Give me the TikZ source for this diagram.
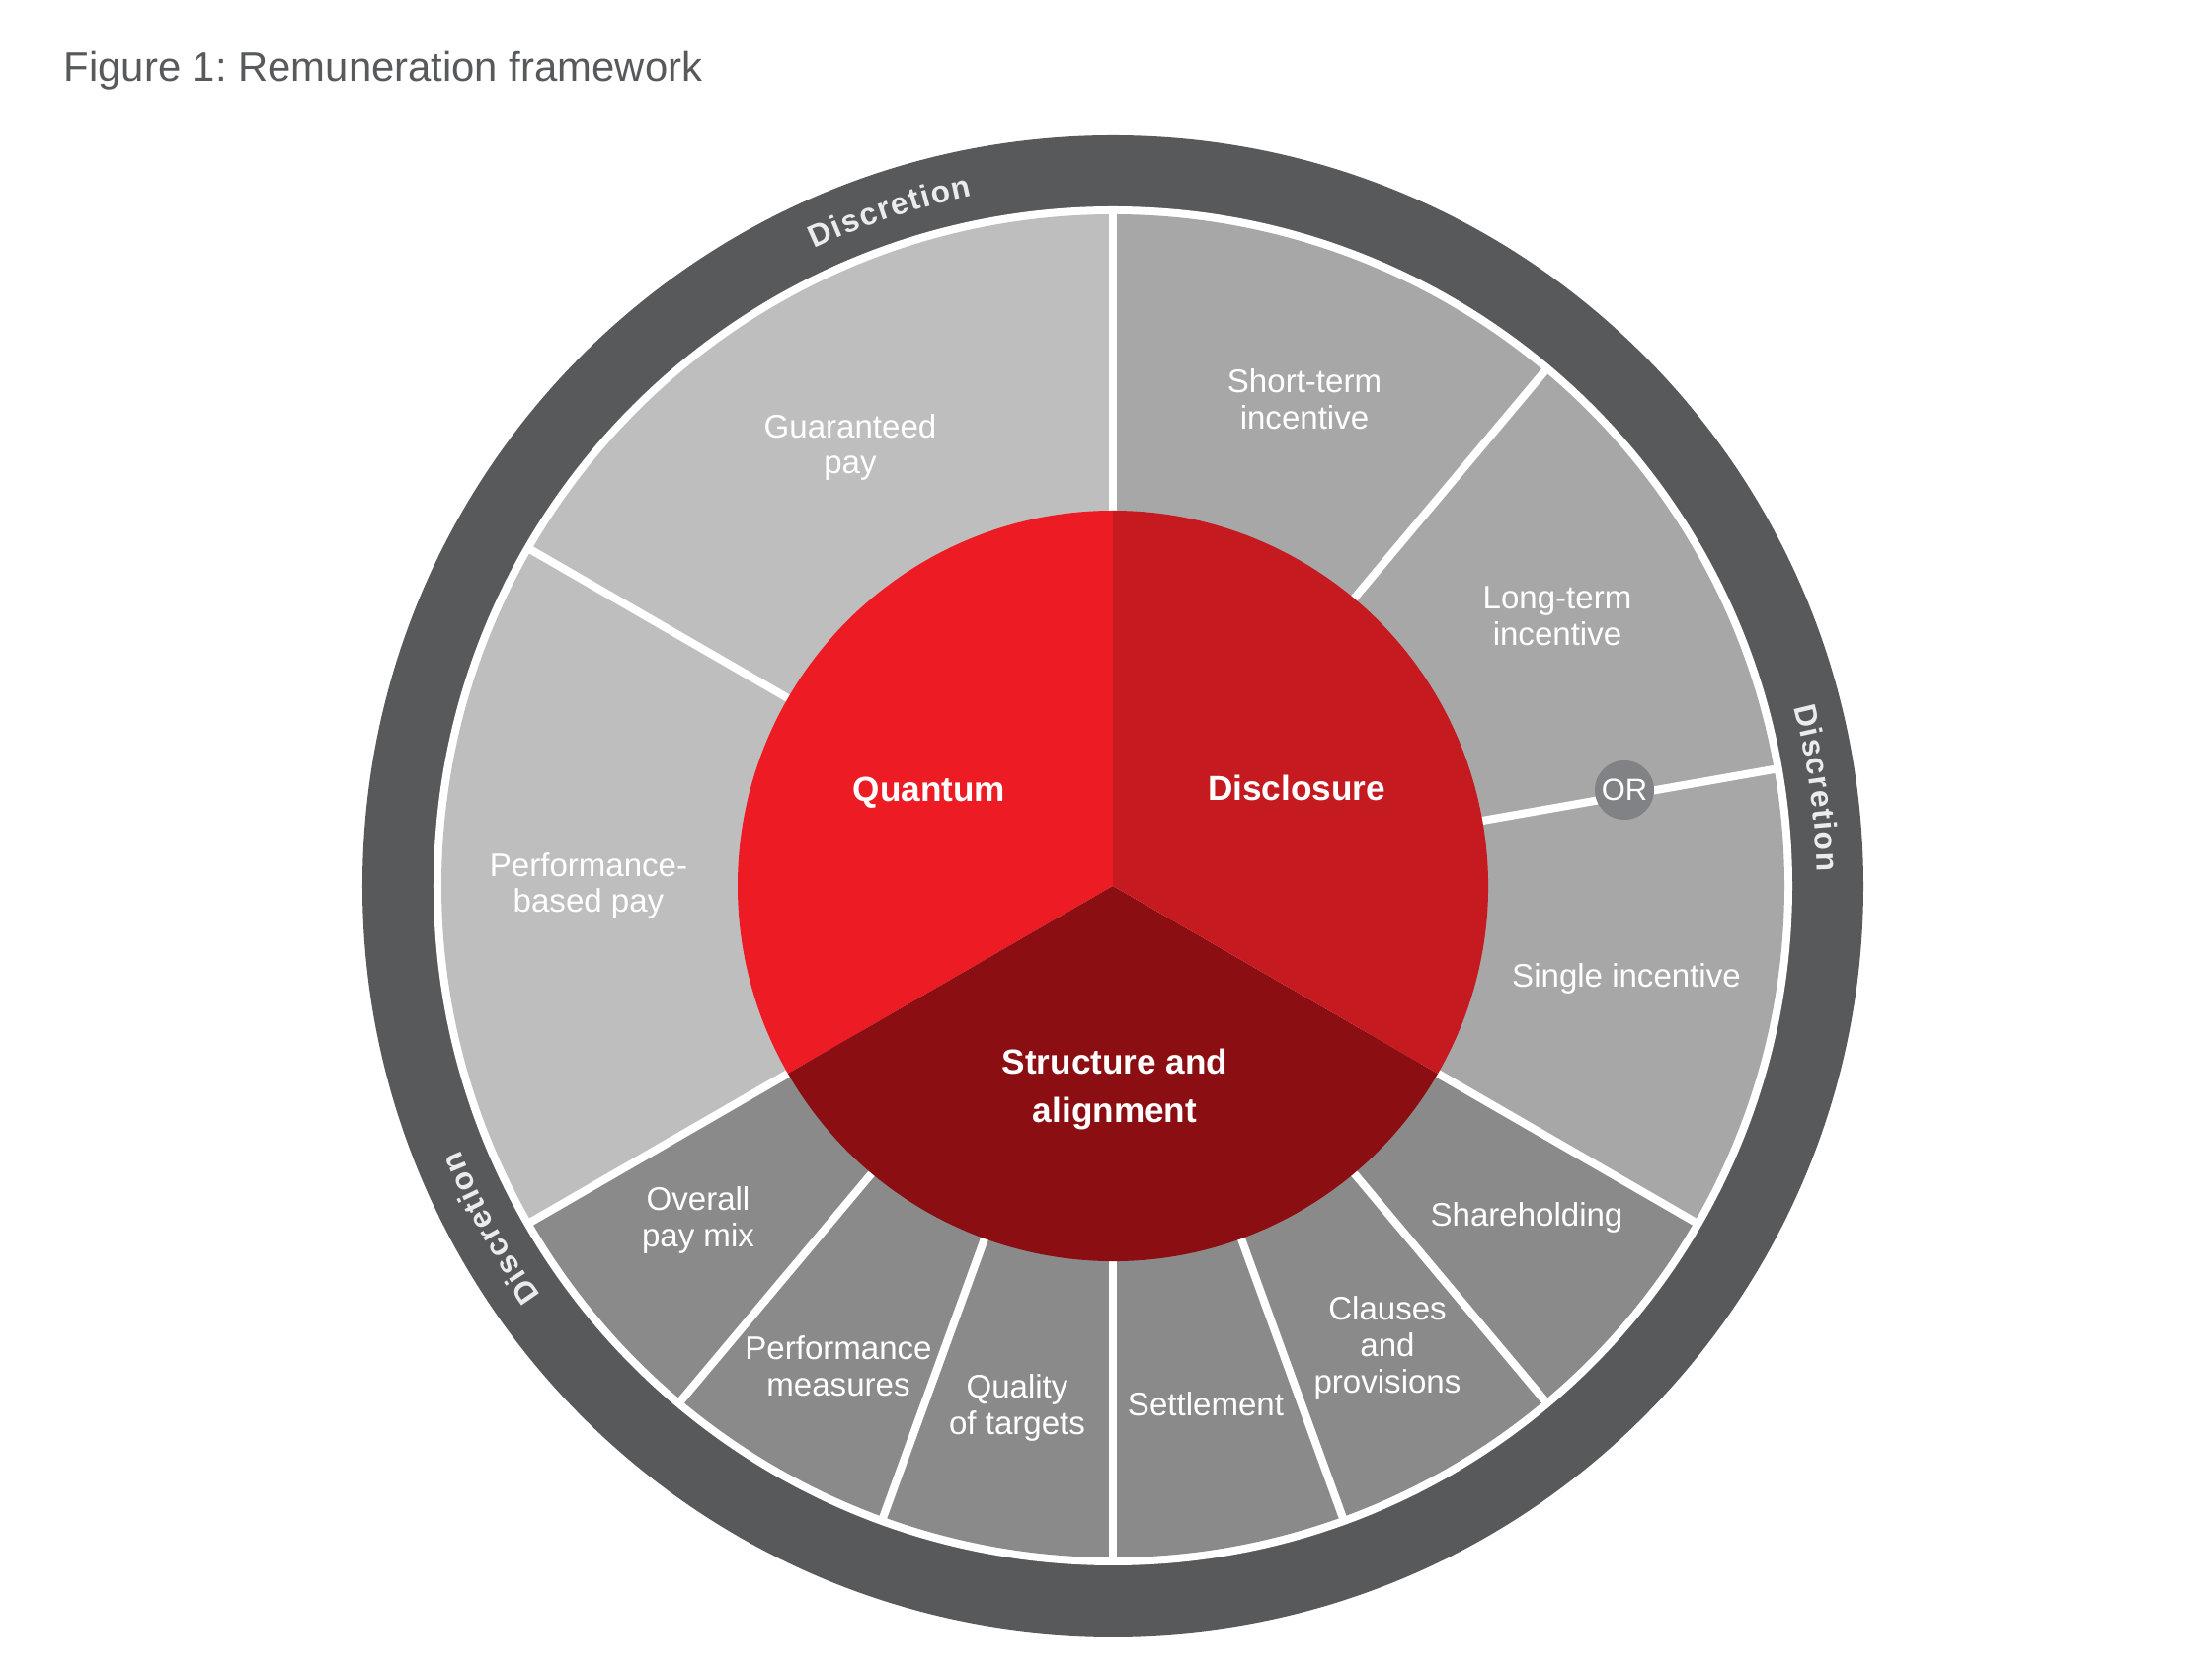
\documentclass[tikz,border=0pt]{standalone}
\usepackage{fontspec}
\setmainfont{Liberation Sans}
\newfontfamily\discfont{Liberation Sans}
\definecolor{ringgrey}{HTML}{58595B}
\definecolor{lightseg}{HTML}{BEBEBE}
\definecolor{midseg}{HTML}{A7A7A7}
\definecolor{darkseg}{HTML}{8A8A8A}
\definecolor{redA}{HTML}{ED1C24}
\definecolor{redB}{HTML}{C41A20}
\definecolor{redC}{HTML}{8B0E13}
\definecolor{orgrey}{HTML}{808285}
\definecolor{disctext}{HTML}{EBEBEC}
\definecolor{titlegrey}{HTML}{58595B}

\newcommand\discfontsel{\discfont\bfseries\fontsize{9pt}{10.8pt}\selectfont}

% annulus sector of the grey ring
\newcommand\segfill[3]{%
  \fill[#1] (#2:300) -- (#2:680) arc[start angle=#2, end angle=#3, radius=680]
    -- (#3:300) arc[start angle=#3, end angle=#2, radius=300] -- cycle;}

% curved "Discretion" label centred on angle #1 (letter offsets in degrees,
% from Liberation Sans Bold advance widths at 9pt plus 0.45pt tracking, radius 713)
\newcommand\disclabel[2]{%
  \foreach \ch/\off [count=\k] in {D/-5.870,i/-4.471,s/-3.284,c/-1.744,r/-0.416,
                                   e/0.913,t/2.170,i/3.073,o/4.330,n/6.011}{%
    \pgfmathsetmacro\dAng{#1-\off}%
    \node[discchar, rotate=\dAng-90] (#2-\k) at (\dAng:713) {\ch};
  }%
}

\begin{document}
\frenchspacing
\begin{tikzpicture}[x=0.01cm,y=0.01cm,
  seglabel/.style={text=white, font=\fontsize{9.4pt}{10.5pt}\selectfont, align=center, inner sep=0pt},
  corelabel/.style={text=white, font=\bfseries\fontsize{10pt}{14.2pt}\selectfont, align=center, inner sep=0pt},
  discchar/.style={text=disctext, font=\discfontsel, anchor=base, inner sep=0pt},
  divider/.style={white, line width=2.3pt}]
\useasboundingbox (-1127,-801) rectangle (1113,897);

% outer ring
\fill[ringgrey] (0,0) circle[radius=760];
\fill[white] (0,0) circle[radius=688];

% grey segments
\segfill{lightseg}{90}{150}
\segfill{lightseg}{150}{210}
\segfill{darkseg}{210}{230}
\segfill{darkseg}{230}{250}
\segfill{darkseg}{250}{270}
\segfill{darkseg}{270}{290}
\segfill{darkseg}{290}{310}
\segfill{darkseg}{310}{330}
\segfill{midseg}{330}{370}
\segfill{midseg}{10}{50}
\segfill{midseg}{50}{90}

% white dividers
\foreach \a in {90,50,10,-30,-50,-70,-90,-110,-130,-150,150}
  \draw[divider] (\a:360) -- (\a:684);

% red core
\fill[redA] (0,0) -- (90:380) arc[start angle=90, end angle=210, radius=380] -- cycle;
\fill[redC] (0,0) -- (210:380) arc[start angle=210, end angle=330, radius=380] -- cycle;
\fill[redB] (0,0) -- (-30:380) arc[start angle=-30, end angle=90, radius=380] -- cycle;

% OR marker
\node[circle, fill=orgrey, minimum size=0.6cm, inner sep=0pt, text=white,
      font=\fontsize{8.8pt}{10pt}\selectfont] (or) at (518,97) {OR};

% segment labels
\node[seglabel] (guar) at (-266,444) {Guaranteed\\pay};
\node[seglabel] (sti) at (194,493) {Short-term\\incentive};
\node[seglabel] (lti) at (450,273) {Long-term\\incentive};
\node[seglabel] (single) at (520,-94) {Single incentive};
\node[seglabel] (share) at (419,-336) {Shareholding};
\node[seglabel] (clauses) at (278,-468) {Clauses\\and\\provisions};
\node[seglabel] (settle) at (94,-525) {Settlement};
\node[seglabel] (quality) at (-97,-528) {Quality\\of targets};
\node[seglabel] (perfm) at (-278,-486) {Performance\\measures};
\node[seglabel] (mix) at (-420,-338) {Overall\\pay mix};
\node[seglabel] (perfpay) at (-531,0) {Performance-\\based pay};

% core labels
\node[corelabel] (quantum) at (-186,94) {Quantum};
\node[corelabel] (disclosure) at (186,99) {Disclosure};
\node[corelabel] (structure) at (2,-206) {Structure and\\alignment};

% curved ring labels
\disclabel{108.3}{discA}
\disclabel{7.9}{discB}
\disclabel{208.8}{discC}

% title
\node[anchor=base west, text=titlegrey, font=\fontsize{11.9pt}{14pt}\selectfont, inner sep=0pt]
  (title) at (-1063,814) {Figure 1: Remuneration framework};
\end{tikzpicture}
\end{document}
